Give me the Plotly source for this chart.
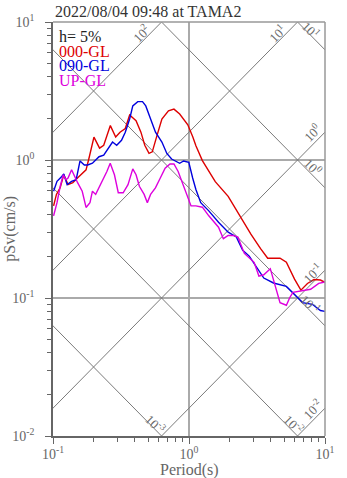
import math
import plotly.graph_objects as go

# ---------------- data ----------------
red_T = [0.101, 0.106, 0.113, 0.120, 0.129, 0.140, 0.152, 0.175, 0.185, 0.200, 0.220, 0.236,
         0.264, 0.289, 0.311, 0.340, 0.366, 0.408, 0.443, 0.473, 0.508, 0.537, 0.582, 0.632,
         0.706, 0.775, 0.854, 0.904, 0.980, 1.067, 1.124, 1.254, 1.398, 1.560, 1.941, 2.42,
         2.851, 3.36, 3.79, 4.67, 5.20, 5.97, 6.65, 7.43, 8.30, 9.25, 10.0]
red_Sv = [0.465, 0.563, 0.631, 0.782, 0.663, 0.686, 0.744, 0.849, 1.056, 1.466, 1.218, 1.279,
          1.776, 1.466, 1.591, 1.69, 2.117, 1.928, 1.591, 1.279, 1.116, 1.146, 1.507, 1.983,
          2.272, 2.336, 2.152, 1.983, 1.80, 1.47, 1.27, 0.99, 0.825, 0.697, 0.545, 0.380,
          0.290, 0.228, 0.194, 0.194, 0.1815, 0.137, 0.114, 0.1275, 0.136, 0.135, 0.130]

blue_T = [0.101, 0.107, 0.116, 0.120, 0.127, 0.137, 0.148, 0.158, 0.170, 0.180, 0.195, 0.218,
          0.236, 0.256, 0.274, 0.294, 0.319, 0.340, 0.366, 0.386, 0.420, 0.455, 0.481, 0.522,
          0.567, 0.632, 0.687, 0.745, 0.809, 0.854, 0.912, 0.997, 1.064, 1.124, 1.22, 1.398,
          1.648, 1.941, 2.228, 2.483, 2.773, 3.18, 3.548, 4.18, 5.20, 6.13, 6.84, 8.07, 9.25, 10.0]
blue_Sv = [0.594, 0.700, 0.760, 0.791, 0.663, 0.700, 0.720, 0.984, 0.921, 0.921, 0.947, 1.056,
           1.086, 1.212, 1.350, 1.279, 1.388, 1.591, 1.983, 2.466, 2.647, 2.647, 2.466, 1.983,
           1.591, 1.350, 1.116, 1.016, 0.973, 0.947, 0.984, 0.963, 0.741, 0.611, 0.491, 0.428,
           0.354, 0.300, 0.2766, 0.222, 0.2012, 0.1644, 0.1395, 0.1285, 0.1214, 0.1033, 0.0926,
           0.090, 0.0812, 0.080]

mag_T = [0.101, 0.107, 0.113, 0.119, 0.1245, 0.129, 0.137, 0.144, 0.152, 0.164, 0.175, 0.187,
         0.195, 0.206, 0.2175, 0.236, 0.249, 0.2635, 0.283, 0.302, 0.328, 0.356, 0.386, 0.408,
         0.4315, 0.468, 0.494, 0.522, 0.5665, 0.615, 0.6675, 0.7245, 0.775, 0.832, 0.904, 0.980,
         1.035, 1.124, 1.254, 1.398, 1.648, 1.789, 1.941, 2.108, 2.288, 2.553, 3.01, 3.266,
         3.548, 3.961, 4.30, 4.67, 5.20, 5.50, 5.81, 6.65, 7.84, 8.99, 10.0]
mag_Sv = [0.394, 0.491, 0.645, 0.782, 0.720, 0.741, 0.849, 0.760, 0.682, 0.594, 0.453, 0.491,
          0.594, 0.563, 0.628, 0.720, 0.825, 0.947, 0.782, 0.579, 0.579, 0.663, 0.863, 0.782,
          0.645, 0.563, 0.491, 0.563, 0.628, 0.741, 0.873, 0.936, 0.936, 0.825, 0.663, 0.533,
          0.465, 0.465, 0.455, 0.394, 0.326, 0.269, 0.284, 0.284, 0.2766, 0.2103, 0.1815, 0.1442,
          0.1473, 0.1631, 0.1218, 0.0926, 0.0886, 0.1005, 0.110, 0.1122, 0.1156, 0.1275, 0.1306]

series_names = ["000-GL", "090-GL", "UP-GL"]
series_colors = ["#dd0000", "#0000dd", "#dd00dd"]

title_text = "2022/08/04 09:48 at TAMA2"
damping_text = "h= 5%"

x_ticks = [0.1, 1, 10]
x_ticktext = ["10<sup>-1</sup>", "10<sup>0</sup>", "10<sup>1</sup>"]
y_ticks = [0.01, 0.1, 1, 10]
y_ticktext = ["10<sup>-2</sup>", "10<sup>-1</sup>", "10<sup>0</sup>", "10<sup>1</sup>"]

# tripartite grid values
acc_values = [1e-2, 1e-1, 1e0, 1e1, 1e2, 1e3]     # cm/s^2
disp_values = [1e-3, 1e-2, 1e-1, 1e0, 1e1, 1e2]   # cm

FONT = "Liberation Serif"
GRAY = "#666666"

fig = go.Figure()

# diagonal lines
T_span = [0.01, 100.0]
for a in acc_values:
    fig.add_trace(go.Scatter(x=T_span, y=[a * t / (2 * math.pi) for t in T_span],
                             mode="lines", line=dict(color="#7a7a7a", width=1),
                             hoverinfo="skip", showlegend=False))
for d in disp_values:
    fig.add_trace(go.Scatter(x=T_span, y=[2 * math.pi * d / t for t in T_span],
                             mode="lines", line=dict(color="#7a7a7a", width=1),
                             hoverinfo="skip", showlegend=False))

# spectra
for T, S, name, col in zip([red_T, blue_T, mag_T], [red_Sv, blue_Sv, mag_Sv],
                           series_names, series_colors):
    fig.add_trace(go.Scatter(x=T, y=S, mode="lines", name=name,
                             line=dict(color=col, width=1.4), showlegend=False))

# labels on diagonal lines: (kind, value, px back from exit, px up)
PX_DEC = 140.3
diag_labels = [("a", 1e2, 21, 10), ("a", 1e1, 21, 10), ("a", 1e0, 13, 13),
               ("a", 1e-1, 13, 10), ("a", 1e-2, 13, 12),
               ("d", 1e1, 14, 6), ("d", 1e0, 12, 9), ("d", 1e-1, 15, 7),
               ("d", 1e-2, 3.5, 9), ("d", 1e-3, 6, 6)]

annotations = []
for kind, v, dx, dy in diag_labels:
    e = int(round(math.log10(v)))
    txt = "10<sup>%d</sup>" % e
    if kind == "a":
        t_exit = min(10.0, 2 * math.pi * 10 / v)
        t_lab = t_exit * 10 ** (-dx / PX_DEC)
        s_lab = v * t_lab / (2 * math.pi)
        ang = -45
    else:
        t_exit = min(10.0, 2 * math.pi * v / 0.01)
        t_lab = t_exit * 10 ** (-dx / PX_DEC)
        s_lab = 2 * math.pi * v / t_lab
        ang = 45
    annotations.append(dict(x=math.log10(t_lab), y=math.log10(s_lab), xref="x", yref="y",
                            text=txt, showarrow=False, textangle=ang, yshift=dy,
                            font=dict(family=FONT, size=13, color="#6a6a6a")))

# title
annotations.append(dict(x=0, y=1 + (15 - 4.5) / 421, xref="paper", yref="paper", text=title_text,
                        showarrow=False, xanchor="left", yanchor="middle",
                        font=dict(family=FONT, size=16, color="#333333")))
# legend-like texts
leg_items = [(damping_text, "#222222")] + list(zip(series_names, series_colors))
leg_y_px = [29.5, 44.5, 59.5, 74.5]
for (txt, col), ypx in zip(leg_items, leg_y_px):
    annotations.append(dict(x=0.0165, y=1 - (ypx - 15) / 421, xref="paper", yref="paper",
                            text=txt, showarrow=False, xanchor="left", yanchor="middle",
                            font=dict(family=FONT, size=16, color=col)))
# axis titles
annotations.append(dict(x=(8 - 52.7) / 280.6, y=0.5, xref="paper", yref="paper",
                        text="pSv(cm/s)", textangle=-90, showarrow=False,
                        xanchor="center", yanchor="middle",
                        font=dict(family=FONT, size=16, color=GRAY)))
annotations.append(dict(x=0.5, y=(436 - 471) / 421, xref="paper", yref="paper",
                        text="Period(s)", showarrow=False, xanchor="center", yanchor="middle",
                        font=dict(family=FONT, size=16, color=GRAY)))

minor_x = [m * 10 ** k for k in (-1, 0) for m in range(2, 10)]
minor_y = [m * 10 ** k for k in (-2, -1, 0) for m in range(2, 10)]

fig.update_layout(
    width=347, height=478,
    margin=dict(l=53, r=14, t=15, b=42),
    paper_bgcolor="white", plot_bgcolor="white",
    showlegend=False,
    annotations=annotations,
    shapes=[
        dict(type="line", xref="paper", yref="paper", x0=0, x1=1, y0=1, y1=1,
             line=dict(color="#999999", width=1.5)),
        dict(type="line", xref="paper", yref="paper", x0=1, x1=1, y0=0, y1=1,
             line=dict(color="#999999", width=1.5)),
    ],
    xaxis=dict(type="log", range=[-1, 1], autorange=False,
               tickmode="array", tickvals=x_ticks, ticktext=x_ticktext,
               ticks="outside", ticklen=6, tickcolor=GRAY, tickwidth=1,
               showline=True, linecolor=GRAY, linewidth=1.5,
               showgrid=True, gridcolor="#aaaaaa", gridwidth=1.5,
               zeroline=False, ticklabelstandoff=-2,
               minor=dict(tickmode="array", tickvals=minor_x, ticks="outside",
                          ticklen=4, tickcolor=GRAY, showgrid=False),
               tickfont=dict(family=FONT, size=14, color=GRAY)),
    yaxis=dict(type="log", range=[-2, 1], autorange=False,
               tickmode="array", tickvals=y_ticks, ticktext=y_ticktext,
               ticks="outside", ticklen=6, tickcolor=GRAY, tickwidth=1,
               showline=True, linecolor=GRAY, linewidth=1.5,
               showgrid=True, gridcolor="#aaaaaa", gridwidth=1.5,
               zeroline=False, ticklabelstandoff=8,
               minor=dict(tickmode="array", tickvals=minor_y, ticks="outside",
                          ticklen=4, tickcolor=GRAY, showgrid=False),
               tickfont=dict(family=FONT, size=14, color=GRAY)),
)

fig.write_html("out.html")
